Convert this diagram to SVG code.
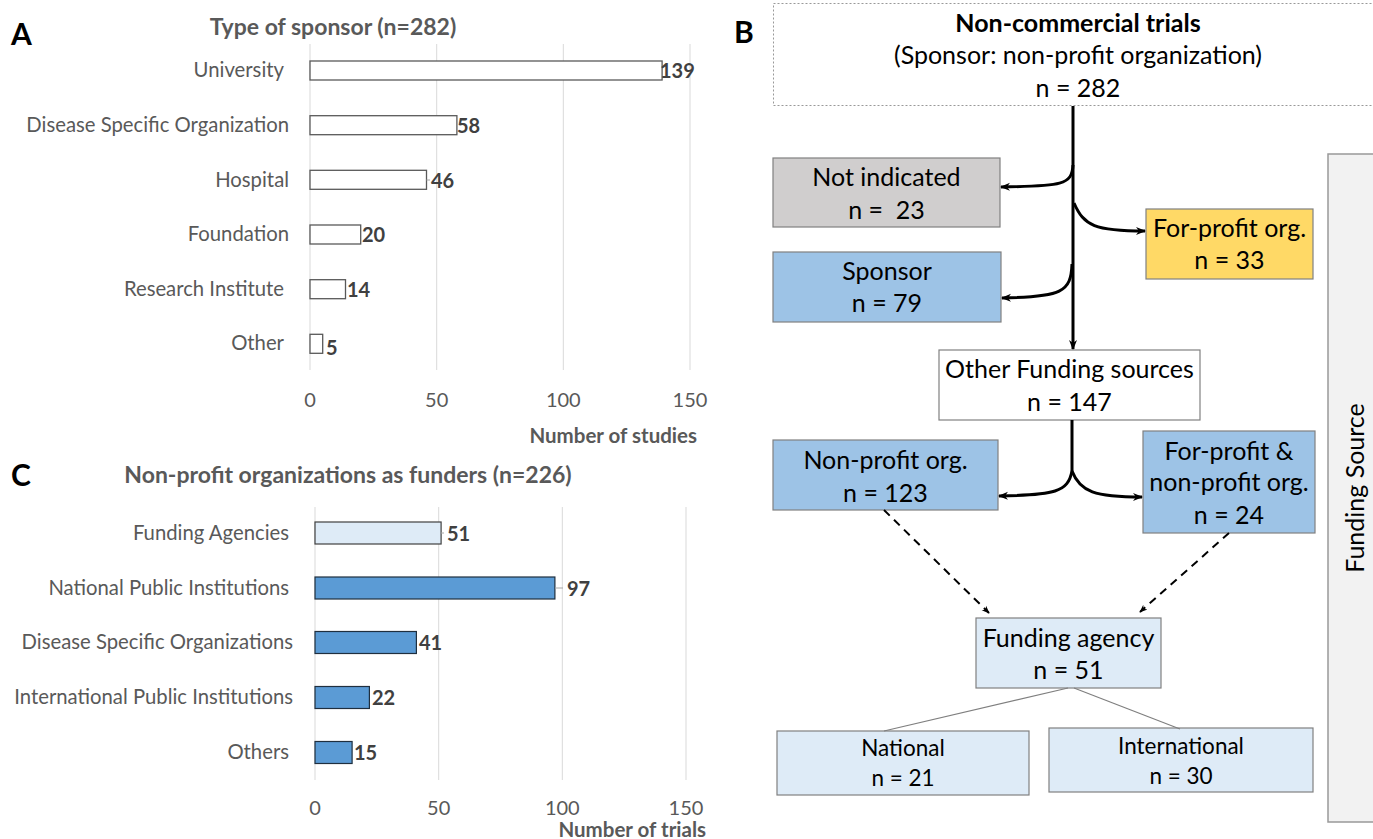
<svg xmlns="http://www.w3.org/2000/svg" width="1373" height="839" viewBox="0 0 1373 839">
<defs>
<style>
text{font-family:Lato,"Open Sans","Liberation Sans",sans-serif}
.panel{font-size:30px;font-weight:bold;fill:#000}
.ttl{font-size:23px;font-weight:bold;fill:#595959}
.cat{font-size:20.3px;fill:#595959;text-anchor:end}
.val{font-size:20px;font-weight:bold;fill:#404040}
.tick{font-size:20px;fill:#595959;text-anchor:middle}
.axt{font-size:20.5px;font-weight:bold;fill:#595959;text-anchor:end}
.grid{stroke:#d9d9d9;stroke-width:1}
.barA{fill:#fff;stroke:#595959;stroke-width:1.3}
.barC{fill:#5b9bd5;stroke:#1f2f3f;stroke-width:1.2}
.lead{stroke:#a6a6a6;stroke-width:1}
.box{stroke:#808080;stroke-width:1.2}
.bt{font-size:25px;fill:#000;text-anchor:middle}
.bs{font-size:22.5px;fill:#000;text-anchor:middle}
.flow{fill:none;stroke:#000;stroke-width:3}
.dash{fill:none;stroke:#000;stroke-width:2;stroke-dasharray:8,6}
.thin{fill:none;stroke:#7f7f7f;stroke-width:1.2}
</style>
<marker id="ah" viewBox="0 0 10 10" refX="9" refY="5" markerWidth="10" markerHeight="10" markerUnits="userSpaceOnUse" orient="auto">
<path d="M0,1 L10,5 L0,9 L3,5 Z" fill="#000"/>
</marker>
<marker id="ahs" viewBox="0 0 10 10" refX="9" refY="5" markerWidth="8" markerHeight="8" markerUnits="userSpaceOnUse" orient="auto">
<path d="M0,1 L10,5 L0,9 L3,5 Z" fill="#000"/>
</marker>
</defs>
<rect width="1373" height="839" fill="#fff"/>

<!-- Panel A -->
<g id="panelA">
<text class="panel" x="11" y="45">A</text>
<text class="ttl" x="333" y="35" text-anchor="middle">Type of sponsor (n=282)</text>
<line class="grid" x1="310" y1="44" x2="310" y2="370"/>
<line class="grid" x1="436.7" y1="44" x2="436.7" y2="370"/>
<line class="grid" x1="563.3" y1="44" x2="563.3" y2="370"/>
<line class="grid" x1="690" y1="44" x2="690" y2="370"/>
<rect class="barA" x="310" y="61" width="352.1" height="19"/>
<rect class="barA" x="310" y="115.7" width="146.9" height="19"/>
<rect class="barA" x="310" y="170.3" width="116.5" height="19"/>
<rect class="barA" x="310" y="225" width="50.7" height="19"/>
<rect class="barA" x="310" y="279.7" width="35.5" height="19"/>
<rect class="barA" x="310" y="334.3" width="12.7" height="19"/>
<line class="lead" x1="426.5" y1="180" x2="430" y2="180"/>
<text class="cat" x="284" y="77">University</text>
<text class="cat" x="289" y="132">Disease Specific Organization</text>
<text class="cat" x="289" y="187">Hospital</text>
<text class="cat" x="289" y="241">Foundation</text>
<text class="cat" x="284" y="296">Research Institute</text>
<text class="cat" x="284" y="350">Other</text>
<text class="val" x="660" y="78">139</text>
<text class="val" x="457" y="133">58</text>
<text class="val" x="431" y="188">46</text>
<text class="val" x="362" y="242">20</text>
<text class="val" x="347" y="297">14</text>
<text class="val" x="326" y="355">5</text>
<text class="tick" x="310" y="407">0</text>
<text class="tick" x="436.7" y="407">50</text>
<text class="tick" x="563.3" y="407">100</text>
<text class="tick" x="690" y="407">150</text>
<text class="axt" x="697" y="443">Number of studies</text>
</g>

<!-- Panel C -->
<g id="panelC">
<text class="panel" x="11" y="486">C</text>
<text class="ttl" x="348" y="483" text-anchor="middle">Non-profit organizations as funders (n=226)</text>
<line class="grid" x1="315" y1="507" x2="315" y2="780"/>
<line class="grid" x1="438.7" y1="507" x2="438.7" y2="780"/>
<line class="grid" x1="562.3" y1="507" x2="562.3" y2="780"/>
<line class="grid" x1="686" y1="507" x2="686" y2="780"/>
<rect x="315" y="522" width="126.1" height="22" fill="#deebf7" stroke="#404040" stroke-width="1.2"/>
<rect class="barC" x="315" y="577" width="239.9" height="22"/>
<rect class="barC" x="315" y="631.5" width="101.4" height="22"/>
<rect class="barC" x="315" y="686.5" width="54.4" height="22"/>
<rect class="barC" x="315" y="741.5" width="37.1" height="22"/>
<line class="lead" x1="441" y1="533" x2="444" y2="533"/>
<line class="lead" x1="555" y1="588" x2="563" y2="588"/>
<text class="cat" x="289" y="540">Funding Agencies</text>
<text class="cat" x="289" y="595">National Public Institutions</text>
<text class="cat" x="293" y="649">Disease Specific Organizations</text>
<text class="cat" x="293" y="704">International Public Institutions</text>
<text class="cat" x="289" y="759">Others</text>
<text class="val" x="447" y="541">51</text>
<text class="val" x="567" y="596">97</text>
<text class="val" x="419" y="650">41</text>
<text class="val" x="372" y="705">22</text>
<text class="val" x="354" y="760">15</text>
<text class="tick" x="315" y="815">0</text>
<text class="tick" x="438.7" y="815">50</text>
<text class="tick" x="562.3" y="815">100</text>
<text class="tick" x="686" y="815">150</text>
<text class="axt" x="706" y="837">Number of trials</text>
</g>

<!-- Panel B -->
<text class="panel" x="734" y="43">B</text>

<g id="fundingSource">
<rect x="1328" y="154" width="60" height="668" fill="#f2f2f2" stroke="#999" stroke-width="1.5"/>
<text class="bt" x="1364" y="488" transform="rotate(-90 1364 488)">Funding Source</text>
</g>

<g id="top">
<rect x="773.5" y="3.5" width="620" height="102" fill="#fff" stroke="#999" stroke-width="1" stroke-dasharray="2,2"/>
<text class="bt" x="1078" y="32" font-weight="bold">Non-commercial trials</text>
<text class="bt" x="1078" y="64">(Sponsor: non-profit organization)</text>
<text class="bt" x="1078" y="97">n = 282</text>
</g>

<g id="notIndicated">
<rect class="box" x="773" y="158" width="227" height="69" fill="#d0cece"/>
<text class="bt" x="886.5" y="186">Not indicated</text>
<text class="bt" x="886.5" y="219" xml:space="preserve">n =  23</text>
</g>

<g id="forProfit">
<rect class="box" x="1146" y="209" width="167" height="70" fill="#ffd966"/>
<text class="bt" x="1229.5" y="237">For-profit org.</text>
<text class="bt" x="1229.5" y="269">n = 33</text>
</g>

<g id="sponsor">
<rect class="box" x="773" y="252" width="228" height="70" fill="#9dc3e6"/>
<text class="bt" x="887" y="280">Sponsor</text>
<text class="bt" x="887" y="312">n = 79</text>
</g>

<g id="otherFunding">
<rect class="box" x="939" y="350" width="261" height="70" fill="#fff"/>
<text class="bt" x="1069.5" y="378">Other Funding sources</text>
<text class="bt" x="1069.5" y="411">n = 147</text>
</g>

<g id="nonProfit">
<rect class="box" x="773" y="440" width="225" height="70" fill="#9dc3e6"/>
<text class="bt" x="885.5" y="469">Non-profit org.</text>
<text class="bt" x="885.5" y="502">n = 123</text>
</g>

<g id="forProfitNonProfit">
<rect class="box" x="1143" y="431" width="172" height="102" fill="#9dc3e6"/>
<text class="bt" x="1229" y="460">For-profit &amp;</text>
<text class="bt" x="1229" y="491">non-profit org.</text>
<text class="bt" x="1229" y="524">n = 24</text>
</g>

<g id="fundingAgency">
<rect class="box" x="976" y="618" width="185" height="70" fill="#deebf7"/>
<text class="bt" x="1068.5" y="647">Funding agency</text>
<text class="bt" x="1068.5" y="679">n = 51</text>
</g>

<g id="national">
<rect class="box" x="777" y="731" width="252" height="64" fill="#deebf7"/>
<text class="bs" x="903" y="756">National</text>
<text class="bs" x="903" y="786">n = 21</text>
</g>

<g id="international">
<rect class="box" x="1049" y="728" width="264" height="64" fill="#deebf7"/>
<text class="bs" x="1181" y="754">International</text>
<text class="bs" x="1181" y="784">n = 30</text>
</g>

<g id="connectors">
<path class="flow" d="M1073,106 L1073,349" marker-end="url(#ah)"/>
<path class="flow" d="M1073,165 C1072,185 1062,186 1001,187" marker-end="url(#ah)"/>
<path class="flow" d="M1074,203 C1084,226 1095,231 1145,231" marker-end="url(#ah)"/>
<path class="flow" d="M1072,264 C1071,292 1062,297 1002,298" marker-end="url(#ah)"/>
<path class="flow" d="M1072,420 L1072,471"/>
<path class="flow" d="M1072,471 C1068,492 1055,495 999,496" marker-end="url(#ah)"/>
<path class="flow" d="M1072,471 C1080,492 1095,497 1142,497" marker-end="url(#ah)"/>
<path class="dash" d="M884,510 L989,613" marker-end="url(#ahs)"/>
<path class="dash" d="M1229,533 L1140,612" marker-end="url(#ahs)"/>
<path class="thin" d="M1068,688 L884,731"/>
<path class="thin" d="M1074,688 L1180,729"/>
</g>
</svg>
